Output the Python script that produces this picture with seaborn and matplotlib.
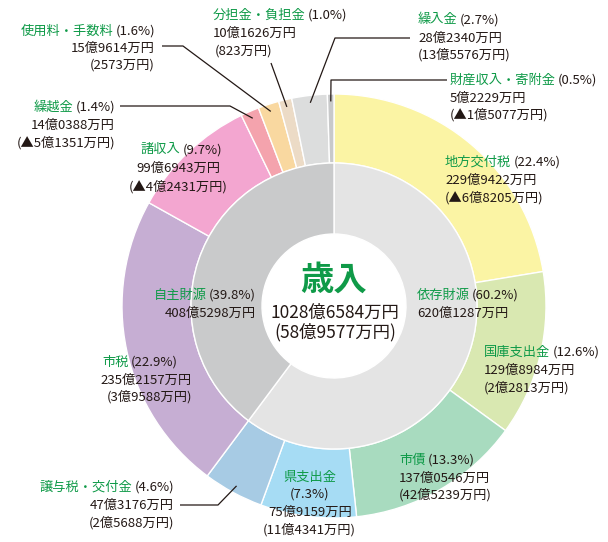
import matplotlib
matplotlib.use('Agg')
import matplotlib.pyplot as plt
import numpy as np
import seaborn as sns

# outer ring: revenue items, clockwise from 12 o'clock
items = ['地方交付税', '国庫支出金', '市債', '県支出金', '譲与税・交付金',
         '市税', '諸収入', '繰越金', '使用料・手数料', '分担金・負担金',
         '繰入金', '財産収入・寄附金']
item_pct = [22.4, 12.6, 13.3, 7.3, 4.6, 22.9, 9.7, 1.4, 1.6, 1.0, 2.7, 0.5]
item_amount = ['229億9422万円', '129億8984万円', '137億0546万円', '75億9159万円',
               '47億3176万円', '235億2157万円', '99億6943万円', '14億0388万円',
               '15億9614万円', '10億1626万円', '28億2340万円', '5億2229万円']
item_change = ['▲6億8205万円', '2億2813万円', '42億5239万円', '11億4341万円',
               '2億5688万円', '3億9588万円', '▲4億2431万円', '▲5億1351万円',
               '2573万円', '823万円', '13億5576万円', '▲1億5077万円']

# inner ring: revenue source groups
groups = ['依存財源', '自主財源']
group_pct = [60.2, 39.8]
group_amount = ['620億1287万円', '408億5298万円']

total_title = '歳入'
total_amount = '1028億6584万円'
total_change = '58億9577万円'

item_colors = ['#fbf4a4', '#d9e8b1', '#a8dbbf', '#a6dcf4', '#a7cbe4', '#c6aed3',
               '#f3a6d0', '#f4a3ad', '#f9d8a0', '#ecdbc6', '#dcdddd', '#c8c9ca']
group_colors = ['#e4e4e4', '#c9cacb']
GREEN = '#0f9a48'
DARK = '#231815'
FS = 9.5

sns.set_theme(style='white')
plt.rcParams['font.family'] = ['Noto Sans CJK JP', 'DejaVu Sans']

W, H = 608, 542
fig = plt.figure(figsize=(W / 100, H / 100), dpi=100)
ax = fig.add_axes([0, 0, 1, 1])

cx, cy = 334, 306
R, R_in, R_hole = 212, 143, 72

# y axis is inverted below, so startangle=-90 + counterclock reads clockwise from top
outer, _ = ax.pie(item_pct, colors=sns.color_palette(item_colors), radius=R,
                  center=(cx, cy), startangle=-90, counterclock=True,
                  wedgeprops=dict(width=R - R_in, edgecolor='white', linewidth=1))
inner, _ = ax.pie(group_pct, colors=sns.color_palette(group_colors), radius=R_in,
                  center=(cx, cy), startangle=-90, counterclock=True,
                  wedgeprops=dict(width=R_in - R_hole, edgecolor='white', linewidth=1))
ax.set_xlim(0, W)
ax.set_ylim(H, 0)
ax.set_aspect('equal')
ax.axis('off')


def name_line(x, y, name, pct, ha):
    if ha == 'left':
        t = ax.text(x, y, name, color=GREEN, fontsize=FS, ha='left', va='center')
        ax.annotate(f'({pct}%)', xy=(1, 0), xycoords=t, xytext=(1.5, 0),
                    textcoords='offset points', color=DARK, fontsize=FS,
                    ha='left', va='bottom')
    else:
        t = ax.text(x, y, f'({pct}%)', color=DARK, fontsize=FS, ha='right', va='center')
        ax.annotate(name, xy=(0, 0), xycoords=t, xytext=(-1.5, 0),
                    textcoords='offset points', color=GREEN, fontsize=FS,
                    ha='right', va='bottom')


# label layout: alignment, x per line, y per line (pixels)
label_pos = {
    '地方交付税': ('left', [445, 445, 445], [162, 180, 198]),
    '国庫支出金': ('left', [484, 484, 484], [352, 370, 388]),
    '市債': ('left', [399, 399, 399], [460, 478, 495]),
    '譲与税・交付金': ('right', [174, 174, 174], [487, 505, 523]),
    '市税': ('right', [178, 192, 192], [362, 380, 397]),
    '諸収入': ('right', [222, 220, 228], [150, 168, 187]),
    '繰越金': ('right', [115, 115, 115], [107, 125, 143]),
    '使用料・手数料': ('right', [155, 155, 155], [31, 48, 65]),
    '分担金・負担金': ('left', [213, 213, 215], [15, 33, 51]),
    '繰入金': ('left', [418, 418, 418], [20, 38, 55]),
    '財産収入・寄附金': ('left', [450, 450, 450], [80, 98, 115]),
}

for name, pct, amt, chg in zip(items, item_pct, item_amount, item_change):
    if name not in label_pos:
        continue
    ha, xs, ys = label_pos[name]
    name_line(xs[0], ys[0], name, pct, ha)
    ax.text(xs[1], ys[1], amt, color=DARK, fontsize=FS, ha=ha, va='center')
    ax.text(xs[2], ys[2], f'({chg})', color=DARK, fontsize=FS, ha=ha, va='center')

# 県支出金 sits in a narrow wedge: stacked, centred
k = items.index('県支出金')
ax.text(310, 477, items[k], color=GREEN, fontsize=FS, ha='center', va='center')
ax.text(310, 494, f'({item_pct[k]}%)', color=DARK, fontsize=FS, ha='center', va='center')
ax.text(310, 512, item_amount[k], color=DARK, fontsize=FS, ha='center', va='center')
ax.text(309, 530, f'({item_change[k]})', color=DARK, fontsize=FS, ha='center', va='center')

# inner ring labels
group_pos = {'依存財源': ('left', 417, [295, 313]), '自主財源': ('right', 256, [295, 313])}
for g, p, a in zip(groups, group_pct, group_amount):
    ha, x, ys = group_pos[g]
    name_line(x, ys[0], g, p, ha)
    ax.text(x, ys[1], a, color=DARK, fontsize=FS, ha=ha, va='center')

# centre
ax.text(cx, 280, total_title, color=GREEN, fontsize=24, fontweight='bold', ha='center', va='center')
ax.text(cx + 1, 313, total_amount, color=DARK, fontsize=12.5, ha='center', va='center')
ax.text(cx + 1, 332, f'({total_change})', color=DARK, fontsize=12.5, ha='center', va='center')

# leader lines: elbow points, then into the middle of the wedge
leaders = {
    '使用料・手数料': [(162, 46), (183, 46)],
    '分担金・負担金': [(271, 63)],
    '繰入金': [(410, 38), (335, 38)],
    '財産収入・寄附金': [(447, 80), (331, 80)],
    '繰越金': [(120, 106), (230, 106)],
    '譲与税・交付金': [(180, 505), (218, 505)],
}
for name, pts in leaders.items():
    w = outer[items.index(name)]
    th = np.deg2rad((w.theta1 + w.theta2) / 2)
    r = 0.965 * R
    end = (cx + r * np.cos(th), cy + r * np.sin(th))
    xs = [p[0] for p in pts] + [end[0]]
    ys = [p[1] for p in pts] + [end[1]]
    ax.plot(xs, ys, color=DARK, lw=0.9, solid_capstyle='butt')

fig.savefig('out.png', dpi=100)
